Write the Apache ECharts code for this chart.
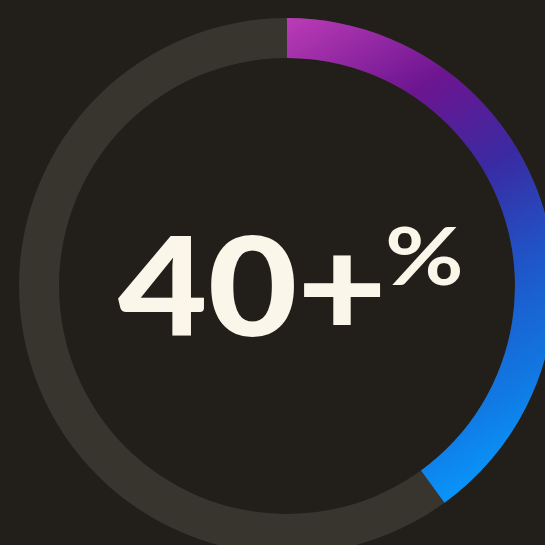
<!DOCTYPE html>
<html>
<head>
<meta charset="utf-8">
<style>
html,body{margin:0;padding:0;background:#221e1a;}
#c{width:545px;height:545px;}
</style>
<script src="https://cdn.jsdelivr.net/npm/echarts@6/dist/echarts.min.js"></script>
</head>
<body>
<div id="c"></div>
<script>
const labels = ['Share'];
const values = [40];
const maxValue = 100;
const suffix = '+';
const unit = '%';

const chart = echarts.init(document.getElementById('c'), null, {renderer: 'canvas'});
const grad = new echarts.graphic.LinearGradient(287, 18, 540, 458, [
  {offset: 0, color: '#bb3cb6'},
  {offset: 0.25, color: '#6c1590'},
  {offset: 0.45, color: '#3a2aa2'},
  {offset: 0.65, color: '#1f55c8'},
  {offset: 0.85, color: '#1178e2'},
  {offset: 1, color: '#0898fc'}
], true);

chart.setOption({
  backgroundColor: '#221e1a',
  animation: false,
  series: [{
    type: 'gauge',
    center: [287, 286],
    radius: 268,
    startAngle: 90,
    endAngle: -270,
    min: 0,
    max: maxValue,
    progress: {show: true, width: 40, roundCap: false, itemStyle: {color: grad}},
    axisLine: {lineStyle: {width: 40, color: [[1, '#38352f']]}},
    pointer: {show: false},
    axisTick: {show: false},
    splitLine: {show: false},
    axisLabel: {show: false},
    anchor: {show: false},
    title: {show: false},
    detail: {show: false},
    data: labels.map((n, i) => ({name: n, value: values[i]}))
  }],
  graphic: [
    {type: 'text', x: 387, y: 291, scaleX: 1.12, style: {
      text: values[0] + suffix, fill: '#fbf6ea',
      fontFamily: 'Lato', fontWeight: 900, fontSize: 138,
      align: 'right', verticalAlign: 'middle'
    }},
    {type: 'text', x: 385, y: 259, scaleX: 1.2, style: {
      text: unit, fill: '#fbf6ea',
      fontFamily: 'Lato', fontWeight: 700, fontSize: 80,
      align: 'left', verticalAlign: 'middle'
    }}
  ]
});
</script>
</body>
</html>
